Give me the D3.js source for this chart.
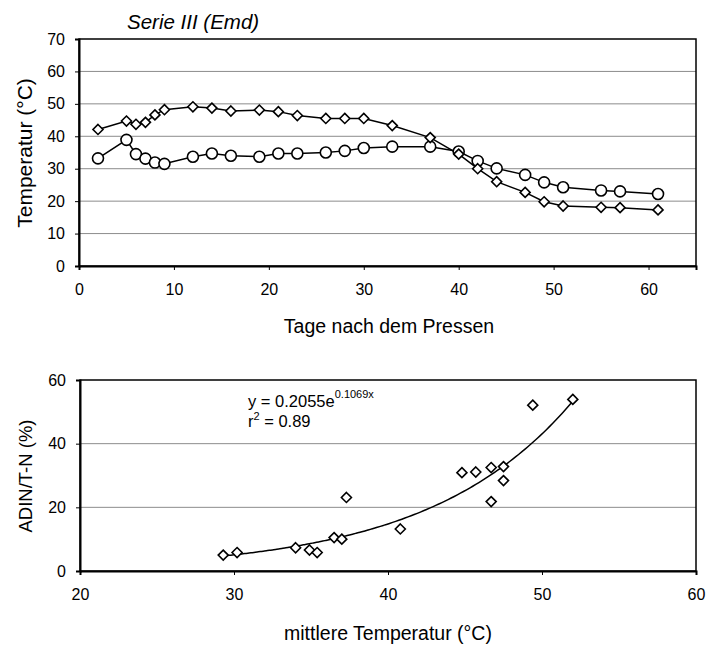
<!DOCTYPE html>
<html>
<head>
<meta charset="utf-8">
<script src="https://cdn.jsdelivr.net/npm/d3@7"></script>
<style>
  body { margin: 0; background: #fff; }
  svg text { font-family: "Liberation Sans", Arial, sans-serif; fill: #000; }
</style>
</head>
<body>
<div id="chart"></div>
<script>
// top chart: temperature over days after pressing
const days = [2, 5, 6, 7, 8, 9, 12, 14, 16, 19, 21, 23, 26, 28, 30, 33, 37, 40, 42, 44, 47, 49, 51, 55, 57, 61]
const tempDiamond = [42.1, 44.7, 43.7, 44.3, 46.6, 48.2, 49.1, 48.7, 47.8, 48.1, 47.6, 46.4, 45.5, 45.5, 45.5, 43.3, 39.6, 34.5, 30.0, 26.0, 22.7, 19.8, 18.5, 18.1, 18.0, 17.3]
const tempCircle = [33.2, 38.9, 34.5, 33.1, 31.9, 31.5, 33.7, 34.7, 34.0, 33.7, 34.7, 34.7, 35.0, 35.5, 36.4, 36.8, 36.8, 35.3, 32.4, 30.1, 28.1, 25.8, 24.3, 23.3, 23.0, 22.2]
const topXTicks = [0, 10, 20, 30, 40, 50, 60]
const topYTicks = [0, 10, 20, 30, 40, 50, 60, 70]

// bottom chart: ADIN/T-N vs mean temperature
const meanTemp = [29.3, 30.2, 34.0, 34.9, 35.4, 36.5, 37.0, 37.3, 40.8, 44.8, 45.7, 46.7, 47.5, 47.5, 46.7, 49.4, 52.0]
const adin = [5.0, 5.8, 7.3, 6.6, 5.8, 10.5, 10.0, 23.1, 13.2, 30.9, 31.1, 32.5, 32.8, 28.4, 21.8, 52.1, 53.9]
const botXTicks = [20, 30, 40, 50, 60]
const botYTicks = [0, 20, 40, 60]

// exponential fit shown on the chart
const fitA = 0.2055
const fitB = 0.1069
const fitRange = [29.3, 52.0]

const W = 719, H = 648

const svg = d3.select('#chart')
  .append('svg')
  .attr('width', W)
  .attr('height', H)

const diamond = d3.symbol().type(d3.symbolDiamond2).size(64)

function frame (g, x, y, gridVals) {
  const [x0, x1] = x.range()
  const [y0, y1] = y.range()

  g.selectAll('.grid')
    .data(gridVals)
    .enter()
    .append('line')
    .attr('x1', x0).attr('x2', x1)
    .attr('y1', d => y(d)).attr('y2', d => y(d))
    .attr('stroke', '#8c8c8c')
    .attr('stroke-width', 1)

  g.append('rect')
    .attr('x', x0).attr('y', y1)
    .attr('width', x1 - x0).attr('height', y0 - y1)
    .attr('fill', 'none')
    .attr('stroke', '#000')
    .attr('stroke-width', 1.5)
}

function axes (g, x, y, xt, yt) {
  const xa = g.append('g')
    .attr('transform', 'translate(0,' + y.range()[0] + ')')
    .call(d3.axisBottom(x).tickValues(xt).tickSize(4).tickPadding(14).tickFormat(d3.format('d')))
  const ya = g.append('g')
    .attr('transform', 'translate(' + x.range()[0] + ',0)')
    .call(d3.axisLeft(y).tickValues(yt).tickSize(4).tickPadding(10).tickFormat(d3.format('d')))
  ;[xa, ya].forEach(a => {
    a.selectAll('text').style('font-size', '16px')
    a.select('.domain').attr('stroke-width', 2)
  })
}

// ---- top chart
const xTop = d3.scaleLinear().domain([0, 65]).range([79, 696])
const yTop = d3.scaleLinear().domain([0, 70]).range([266, 39])
const topG = svg.append('g')

frame(topG, xTop, yTop, [10, 20, 30, 40, 50, 60])
axes(topG, xTop, yTop, topXTicks, topYTicks)

const lineTop = d3.line().x((d, i) => xTop(days[i])).y(d => yTop(d))

topG.append('path')
  .datum(tempCircle)
  .attr('d', lineTop)
  .attr('fill', 'none')
  .attr('stroke', '#000')
  .attr('stroke-width', 1.5)

topG.append('path')
  .datum(tempDiamond)
  .attr('d', lineTop)
  .attr('fill', 'none')
  .attr('stroke', '#000')
  .attr('stroke-width', 1.5)

topG.selectAll('.circ')
  .data(tempCircle)
  .enter()
  .append('circle')
  .attr('cx', (d, i) => xTop(days[i]))
  .attr('cy', d => yTop(d))
  .attr('r', 5.5)
  .attr('fill', '#fff')
  .attr('stroke', '#000')
  .attr('stroke-width', 1.6)

topG.selectAll('.dia')
  .data(tempDiamond)
  .enter()
  .append('path')
  .attr('d', diamond)
  .attr('transform', (d, i) => 'translate(' + xTop(days[i]) + ',' + yTop(d) + ')')
  .attr('fill', '#fff')
  .attr('stroke', '#000')
  .attr('stroke-width', 1.6)

topG.append('text')
  .attr('x', 127)
  .attr('y', 29)
  .style('font-size', '20.5px')
  .style('font-style', 'italic')
  .text('Serie III (Emd)')

topG.append('text')
  .attr('x', 389)
  .attr('y', 333)
  .attr('text-anchor', 'middle')
  .style('font-size', '19.5px')
  .text('Tage nach dem Pressen')

topG.append('text')
  .attr('transform', 'translate(32,' + 153 + ') rotate(-90)')
  .attr('text-anchor', 'middle')
  .style('font-size', '21px')
  .text('Temperatur (°C)')

// ---- bottom chart
const xBot = d3.scaleLinear().domain([20, 60]).range([80, 696])
const yBot = d3.scaleLinear().domain([0, 60]).range([571, 380])
const botG = svg.append('g')

frame(botG, xBot, yBot, [20, 40])
axes(botG, xBot, yBot, botXTicks, botYTicks)

const fitPts = d3.range(fitRange[0], fitRange[1] + 0.001, 0.2)
  .map(t => [t, fitA * Math.exp(fitB * t)])

botG.append('path')
  .datum(fitPts)
  .attr('d', d3.line().x(d => xBot(d[0])).y(d => yBot(d[1])).curve(d3.curveMonotoneX))
  .attr('fill', 'none')
  .attr('stroke', '#000')
  .attr('stroke-width', 1.5)

botG.selectAll('.pt')
  .data(adin)
  .enter()
  .append('path')
  .attr('d', diamond)
  .attr('transform', (d, i) => 'translate(' + xBot(meanTemp[i]) + ',' + yBot(d) + ')')
  .attr('fill', '#fff')
  .attr('stroke', '#000')
  .attr('stroke-width', 1.6)

const eq = botG.append('text')
  .attr('x', 248)
  .attr('y', 407)
  .style('font-size', '16.5px')
eq.append('tspan').text('y = ' + fitA + 'e')
eq.append('tspan').attr('dy', -9).style('font-size', '11px').text(fitB + 'x')

const r2 = botG.append('text')
  .attr('x', 248)
  .attr('y', 427)
  .style('font-size', '16.5px')
r2.append('tspan').text('r')
r2.append('tspan').attr('dy', -7).style('font-size', '11px').text('2')
r2.append('tspan').attr('dy', 7).text(' = 0.89')

botG.append('text')
  .attr('x', 388)
  .attr('y', 640)
  .attr('text-anchor', 'middle')
  .style('font-size', '19.5px')
  .text('mittlere Temperatur (°C)')

botG.append('text')
  .attr('transform', 'translate(32,' + 476 + ') rotate(-90)')
  .attr('text-anchor', 'middle')
  .style('font-size', '18.5px')
  .text('ADIN/T-N (%)')
</script>
</body>
</html>
